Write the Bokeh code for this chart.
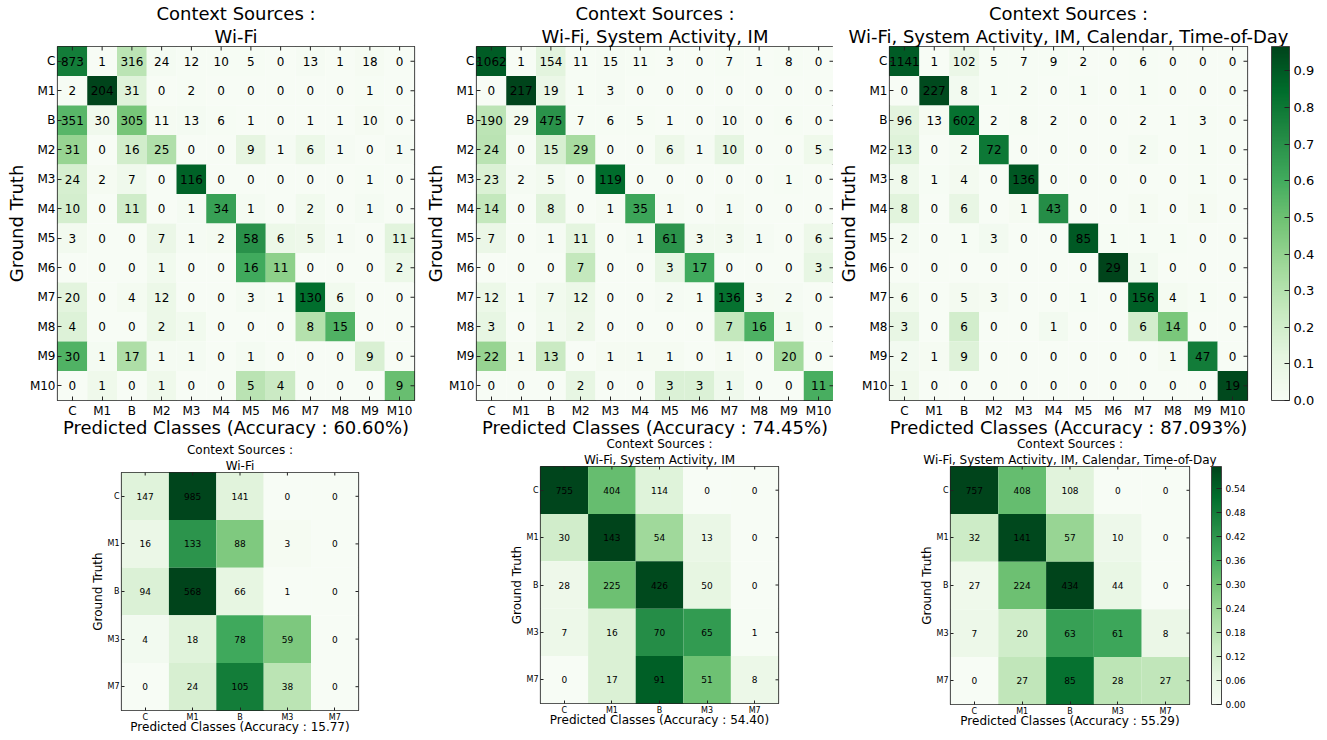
import math
from bokeh.plotting import figure
from bokeh.layouts import column, row
from bokeh.models import (ColumnDataSource, LinearColorMapper, ColorBar, FixedTicker,
                          PrintfTickFormatter, Title)
from bokeh.core.properties import value
from bokeh.palettes import Greens256
from bokeh.embed import file_html
from bokeh.resources import INLINE

FONT = "DejaVu Sans"

classes_top = ["C", "M1", "B", "M2", "M3", "M4", "M5", "M6", "M7", "M8", "M9", "M10"]
classes_bottom = ["C", "M1", "B", "M3", "M7"]

cm_wifi = [
    [873, 1, 316, 24, 12, 10, 5, 0, 13, 1, 18, 0],
    [2, 204, 31, 0, 2, 0, 0, 0, 0, 0, 1, 0],
    [351, 30, 305, 11, 13, 6, 1, 0, 1, 1, 10, 0],
    [31, 0, 16, 25, 0, 0, 9, 1, 6, 1, 0, 1],
    [24, 2, 7, 0, 116, 0, 0, 0, 0, 0, 1, 0],
    [10, 0, 11, 0, 1, 34, 1, 0, 2, 0, 1, 0],
    [3, 0, 0, 7, 1, 2, 58, 6, 5, 1, 0, 11],
    [0, 0, 0, 1, 0, 0, 16, 11, 0, 0, 0, 2],
    [20, 0, 4, 12, 0, 0, 3, 1, 130, 6, 0, 0],
    [4, 0, 0, 2, 1, 0, 0, 0, 8, 15, 0, 0],
    [30, 1, 17, 1, 1, 0, 1, 0, 0, 0, 9, 0],
    [0, 1, 0, 1, 0, 0, 5, 4, 0, 0, 0, 9],
]
cm_wifi_sa_im = [
    [1062, 1, 154, 11, 15, 11, 3, 0, 7, 1, 8, 0],
    [0, 217, 19, 1, 3, 0, 0, 0, 0, 0, 0, 0],
    [190, 29, 475, 7, 6, 5, 1, 0, 10, 0, 6, 0],
    [24, 0, 15, 29, 0, 0, 6, 1, 10, 0, 0, 5],
    [23, 2, 5, 0, 119, 0, 0, 0, 0, 0, 1, 0],
    [14, 0, 8, 0, 1, 35, 1, 0, 1, 0, 0, 0],
    [7, 0, 1, 11, 0, 1, 61, 3, 3, 1, 0, 6],
    [0, 0, 0, 7, 0, 0, 3, 17, 0, 0, 0, 3],
    [12, 1, 7, 12, 0, 0, 2, 1, 136, 3, 2, 0],
    [3, 0, 1, 2, 0, 0, 0, 0, 7, 16, 1, 0],
    [22, 1, 13, 0, 1, 1, 1, 0, 1, 0, 20, 0],
    [0, 0, 0, 2, 0, 0, 3, 3, 1, 0, 0, 11],
]
cm_all = [
    [1141, 1, 102, 5, 7, 9, 2, 0, 6, 0, 0, 0],
    [0, 227, 8, 1, 2, 0, 1, 0, 1, 0, 0, 0],
    [96, 13, 602, 2, 8, 2, 0, 0, 2, 1, 3, 0],
    [13, 0, 2, 72, 0, 0, 0, 0, 2, 0, 1, 0],
    [8, 1, 4, 0, 136, 0, 0, 0, 0, 0, 1, 0],
    [8, 0, 6, 0, 1, 43, 0, 0, 1, 0, 1, 0],
    [2, 0, 1, 3, 0, 0, 85, 1, 1, 1, 0, 0],
    [0, 0, 0, 0, 0, 0, 0, 29, 1, 0, 0, 0],
    [6, 0, 5, 3, 0, 0, 1, 0, 156, 4, 1, 0],
    [3, 0, 6, 0, 0, 1, 0, 0, 6, 14, 0, 0],
    [2, 1, 9, 0, 0, 0, 0, 0, 0, 1, 47, 0],
    [1, 0, 0, 0, 0, 0, 0, 0, 0, 0, 0, 19],
]
cm_small_wifi = [
    [147, 985, 141, 0, 0],
    [16, 133, 88, 3, 0],
    [94, 568, 66, 1, 0],
    [4, 18, 78, 59, 0],
    [0, 24, 105, 38, 0],
]
cm_small_wifi_sa_im = [
    [755, 404, 114, 0, 0],
    [30, 143, 54, 13, 0],
    [28, 225, 426, 50, 0],
    [7, 16, 70, 65, 1],
    [0, 17, 91, 51, 8],
]
cm_small_all = [
    [757, 408, 108, 0, 0],
    [32, 141, 57, 10, 0],
    [27, 224, 434, 44, 0],
    [7, 20, 63, 61, 8],
    [0, 27, 85, 28, 27],
]

sources = ["Wi-Fi", "Wi-Fi, System Activity, IM",
           "Wi-Fi, System Activity, IM, Calendar, Time-of-Day"]
acc_top = ["60.60%", "74.45%", "87.093%"]
acc_bottom = ["15.77", "54.40", "55.29"]
cbar_ticks_top = [0.0, 0.1, 0.2, 0.3, 0.4, 0.5, 0.6, 0.7, 0.8, 0.9]
cbar_ticks_bottom = [0.0, 0.06, 0.12, 0.18, 0.24, 0.30, 0.36, 0.42, 0.48, 0.54]

PALETTE = list(reversed(Greens256))


def panel(cm, classes, source, xlabel, width, height, bl, br, bt,
          title_fs, tick_fs, num_fs, label_fs, tick_len, tick_sd, label_sd,
          cbar=None, transparent=False):
    xs, ys, vals, norms = [], [], [], []
    for i, r in enumerate(cm):
        tot = float(sum(r))
        for j, v in enumerate(r):
            xs.append(classes[j])
            ys.append(classes[i])
            vals.append(str(v))
            norms.append(v / tot if tot else 0.0)
    vmax = max(norms)
    mapper = LinearColorMapper(palette=PALETTE, low=0, high=vmax)
    src = ColumnDataSource(dict(x=xs, y=ys, v=vals, n=norms))
    p = figure(width=width, height=height, x_range=list(classes),
               y_range=list(reversed(classes)), title=None,
               output_backend="svg", toolbar_location=None,
               min_border_left=bl, min_border_right=br,
               min_border_top=bt, min_border_bottom=10)
    if transparent:
        p.border_fill_color = None
    p.rect(x="x", y="y", width=1, height=1, source=src,
           fill_color={"field": "n", "transform": mapper}, line_color=None)
    p.text(x="x", y="y", text="v", source=src, text_align="center",
           text_baseline="middle", text_font=value(FONT),
           text_font_size=num_fs, text_color="black")
    # inward tick marks on the top and right edges (frame clips the outer half)
    top_cat, right_cat = classes[0], classes[-1]
    p.scatter(x=list(classes), y=[(top_cat, 0.5)] * len(classes), marker="dash",
              angle=math.pi / 2, size=2 * tick_len, line_color="#222222",
              line_width=1)
    p.scatter(x=[(right_cat, 0.5)] * len(classes), y=list(classes), marker="dash",
              size=2 * tick_len, line_color="#222222", line_width=1)
    p.grid.visible = False
    p.outline_line_color = "#222222"
    p.outline_line_width = 1.2
    for ax in (p.xaxis[0], p.yaxis[0]):
        ax.axis_line_color = None
        ax.major_tick_in = tick_len
        ax.major_tick_out = 0
        ax.major_tick_line_color = "#222222"
        ax.major_label_text_font = FONT
        ax.major_label_text_font_size = tick_fs
        ax.major_label_text_color = "black"
        ax.axis_label_text_font = FONT
        ax.axis_label_text_font_style = "normal"
        ax.axis_label_text_font_size = label_fs
        ax.axis_label_text_color = "black"
    p.xaxis.major_label_standoff = tick_sd
    p.xaxis.axis_label_standoff = label_sd
    p.yaxis.major_label_standoff = 2
    p.yaxis.axis_label_standoff = 0
    p.xaxis.axis_label = xlabel
    p.yaxis.axis_label = "Ground Truth"
    if cbar is not None:
        ticks, fmt, cw, cfs, gap = cbar
        cb = ColorBar(color_mapper=mapper, ticker=FixedTicker(ticks=ticks),
                      formatter=PrintfTickFormatter(format=fmt), width=cw,
                      padding=0, label_standoff=4, bar_line_color="#444444",
                      major_tick_line_color="#222222", major_tick_in=5,
                      major_tick_out=0, minor_tick_line_color=None,
                      major_label_text_font=FONT, major_label_text_font_size=cfs,
                      major_label_text_color="black", location=(gap, 0))
        if transparent:
            cb.background_fill_color = None
        p.add_layout(cb, "right")
    p.add_layout(Title(text=source, align="center", text_font=FONT,
                       text_font_size=title_fs, text_font_style="normal",
                       standoff=0, text_color="black"), "above")
    p.add_layout(Title(text="Context Sources :", align="center", text_font=FONT,
                       text_font_size=title_fs, text_font_style="normal",
                       standoff=0, text_color="black"), "above")
    return p


f1 = panel(cm_wifi, classes_top, sources[0],
           "Predicted Classes (Accuracy : %s)" % acc_top[0],
           420, 440, 57, 6, 10, "18px", "12px", "12px", "18px", 4, 3, -4)
f2 = panel(cm_wifi_sa_im, classes_top, sources[1],
           "Predicted Classes (Accuracy : %s)" % acc_top[1],
           413, 440, 56, 0, 10, "18px", "12px", "12px", "18px", 4, 3, -4)
f3 = panel(cm_all, classes_top, sources[2],
           "Predicted Classes (Accuracy : %s)" % acc_top[2],
           486, 440, 56, 72, 10, "18px", "12px", "12px", "18px", 4, 3, -4,
           cbar=(cbar_ticks_top, "%.1f", 18, "13px", 24))

f4 = panel(cm_small_wifi, classes_bottom, sources[0],
           "Predicted Classes (Accuracy : %s)" % acc_bottom[0],
           368, 308, 121, 10, 44, "12px", "8px", "9px", "12px", 3, 2, -5,
           transparent=True)
f5 = panel(cm_small_wifi_sa_im, classes_bottom, sources[1],
           "Predicted Classes (Accuracy : %s)" % acc_bottom[1],
           423, 295, 172, 13, 10, "12px", "8px", "9px", "12px", 3, 2, -5,
           transparent=True)
f6 = panel(cm_small_all, classes_bottom, sources[2],
           "Predicted Classes (Accuracy : %s)" % acc_bottom[2],
           458, 296, 159, 60, 10, "12px", "8px", "9px", "12px", 3, 2, -5,
           cbar=(cbar_ticks_bottom, "%.2f", 10, "9px", 22), transparent=True)

top_row = row(f1, f2, f3)
bottom_right = row(f5, f6, margin=(6, 0, 0, 0))
bottom_row = row(f4, bottom_right, margin=(-12, 0, 0, 0))
layout = column(top_row, bottom_row)
open("out.html", "w").write(file_html(layout, INLINE))
